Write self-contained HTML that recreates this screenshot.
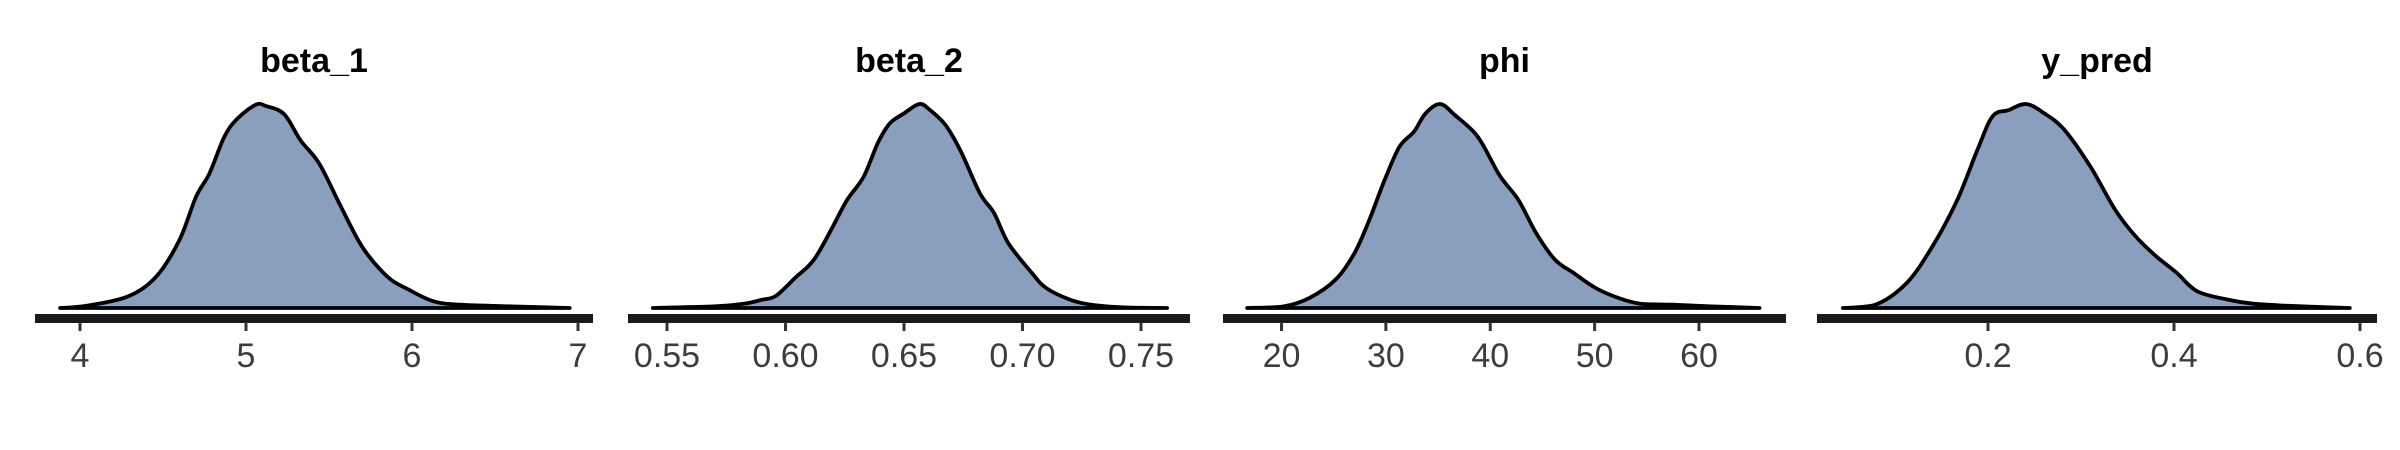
<!DOCTYPE html>
<html><head><meta charset="utf-8"><style>
html,body{margin:0;padding:0;background:#fff}
svg{display:block}
</style></head><body>
<svg id="chart" width="2400" height="450" viewBox="0 0 2400 450" xmlns="http://www.w3.org/2000/svg"></svg>
<script>
const titles = ["beta_1","beta_2","phi","y_pred"];
const beta1X = [3.88,4.04,4.29,4.46,4.6,4.7,4.78,4.87,4.95,5.06,5.12,5.23,5.33,5.44,5.57,5.7,5.85,5.98,6.13,6.29,6.6,6.95];
const beta1Y = [0,.011,.057,.155,.335,.547,.66,.84,.93,.997,.99,.95,.82,.71,.5,.3,.155,.09,.033,.016,.008,0];
const beta2X = [.544,.5696,.582,.59,.596,.604,.612,.62,.626,.633,.639,.644,.65,.6565,.661,.6675,.674,.682,.688,.694,.704,.71,.72,.729,.743,.761];
const beta2Y = [0,.008,.02,.04,.06,.147,.237,.40,.53,.644,.81,.905,.954,1,.97,.897,.767,.563,.465,.318,.171,.098,.041,.016,.003,0];
const phiX = [16.7,20.2,22.7,25.2,27,28.4,29.9,31.3,32.7,33.8,35.2,36.6,38.8,40.9,42.7,44.4,46.2,48,50.1,52.3,54.4,57.6,61.2,65.8];
const phiY = [0,.008,.05,.14,.27,.43,.63,.79,.865,.954,1,.946,.84,.65,.53,.367,.237,.171,.098,.049,.021,.016,.008,0];
const ypredX = [.044,.079,.112,.14,.167,.189,.205,.222,.241,.26,.282,.31,.337,.359,.381,.403,.425,.458,.485,.523,.589];
const ypredY = [0,.016,.12,.30,.53,.78,.94,.97,1,.956,.874,.694,.48,.35,.253,.172,.082,.041,.021,.011,0];
const ticks1 = [4,5,6,7], tickLabels1 = ["4","5","6","7"];
const ticks2 = [.55,.60,.65,.70,.75], tickLabels2 = ["0.55","0.60","0.65","0.70","0.75"];
const ticks3 = [20,30,40,50,60], tickLabels3 = ["20","30","40","50","60"];
const ticks4 = [.2,.4,.6], tickLabels4 = ["0.2","0.4","0.6"];

const NS = "http://www.w3.org/2000/svg";
const svg = document.getElementById("chart");
const panels = [
  {xs:beta1X, ys:beta1Y, ticks:ticks1, labels:tickLabels1, left:35, right:593, v0:4, p0:80, v1:7, p1:578},
  {xs:beta2X, ys:beta2Y, ticks:ticks2, labels:tickLabels2, left:628, right:1190, v0:.55, p0:667, v1:.75, p1:1141},
  {xs:phiX, ys:phiY, ticks:ticks3, labels:tickLabels3, left:1223, right:1786, v0:20, p0:1281.5, v1:60, p1:1699},
  {xs:ypredX, ys:ypredY, ticks:ticks4, labels:tickLabels4, left:1817, right:2377, v0:.2, p0:1988, v1:.6, p1:2360}
];
const BASE = 308, TOP = 104;
function mk(tag, attrs){ const e=document.createElementNS(NS,tag); for(const k in attrs) e.setAttribute(k,attrs[k]); return e; }
function smooth(pts){
  let d = "M" + pts[0][0].toFixed(1) + " " + pts[0][1].toFixed(1);
  for(let i=0;i<pts.length-1;i++){
    const p0=pts[Math.max(0,i-1)], p1=pts[i], p2=pts[i+1], p3=pts[Math.min(pts.length-1,i+2)];
    const c1x=p1[0]+(p2[0]-p0[0])/6, c1y=Math.min(BASE,p1[1]+(p2[1]-p0[1])/6);
    const c2x=p2[0]-(p3[0]-p1[0])/6, c2y=Math.min(BASE,p2[1]-(p3[1]-p1[1])/6);
    d += " C"+c1x.toFixed(1)+" "+c1y.toFixed(1)+" "+c2x.toFixed(1)+" "+c2y.toFixed(1)+" "+p2[0].toFixed(1)+" "+p2[1].toFixed(1);
  }
  return d;
}

panels.forEach((p,i)=>{
  const g = mk("g",{});
  
  
  svg.appendChild(g);
  const sx = v => p.p0 + (v - p.v0) * (p.p1 - p.p0) / (p.v1 - p.v0);
  const sy = h => BASE - h * (BASE - TOP);
  const cx = (p.left + p.right) / 2;

  const t = mk("text",{x:cx, y:72, "text-anchor":"middle", "font-family":"Liberation Sans, sans-serif", "font-weight":"bold", "font-size":"34", fill:"#000"});
  t.textContent = titles[i];
  
  
  g.appendChild(t);

  const pts = p.xs.map((x,k)=>[sx(x), sy(p.ys[k])]);
  const d = smooth(pts) + " Z";
  const area = mk("path",{d: d, fill:"#8a9ebd", stroke:"none"});
  
  
  g.appendChild(area);
  const line = mk("path",{d: d, fill:"none", stroke:"#000", "stroke-width":"3.8", "stroke-linejoin":"round", "stroke-linecap":"round"});
  
  
  g.appendChild(line);

  const axis = mk("rect",{x:p.left, y:314, width:p.right-p.left, height:9, fill:"#1a1a1a"});
  
  
  g.appendChild(axis);

  p.ticks.forEach((v,k)=>{
    const x = sx(v);
    const tk = mk("rect",{x:x-1.5, y:322, width:3, height:9, fill:"#333"});
    
    
    g.appendChild(tk);
    const lb = mk("text",{x:x, y:367, "text-anchor":"middle", "font-family":"Liberation Sans, sans-serif", "font-size":"34", fill:"#3d3d3d"});
    lb.textContent = p.labels[k];
    
    
    g.appendChild(lb);
  });
});
</script>
</body></html>
